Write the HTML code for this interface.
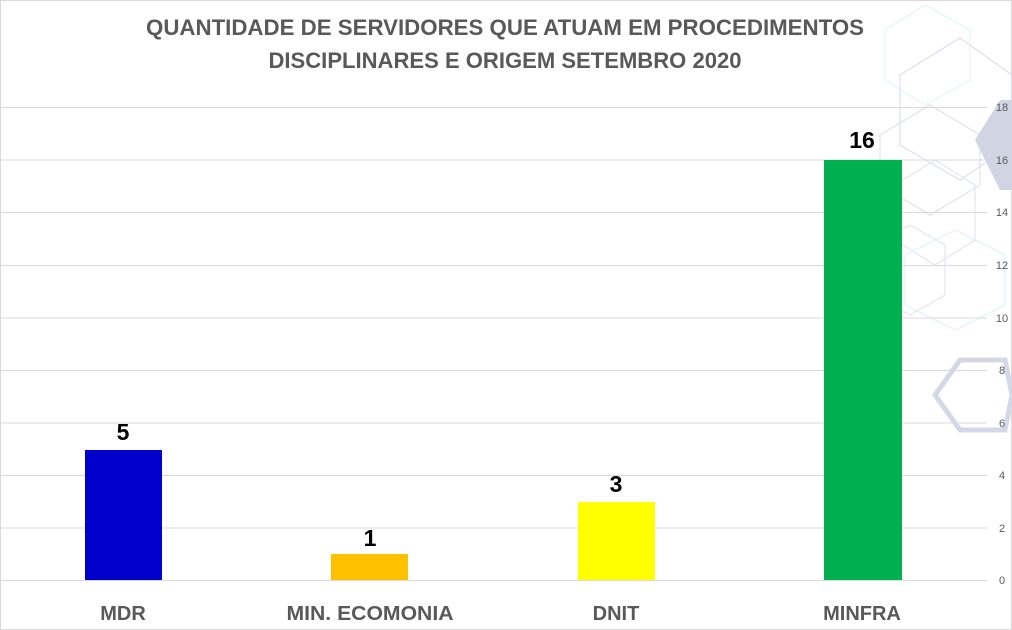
<!DOCTYPE html>
<html><head><meta charset="utf-8"><style>
html,body{margin:0;padding:0;background:#fff;}
svg{display:block;font-family:"Liberation Sans",sans-serif;}
</style></head><body>
<svg width="1012" height="630" viewBox="0 0 1012 630">
<rect x="0.5" y="0.5" width="1011" height="629" fill="#fff" stroke="#d9d9d9"/>
<g fill="none" stroke-width="1.2">
<polygon points="885,30 925,5 970,30 970,80 925,105 885,80" stroke="#e4f4f8"/>
<polygon points="900,75 960,38 1012,75 1012,145 960,180 900,145" stroke="#dde0ec"/>
<polygon points="880,135 930,105 980,135 980,185 930,215 880,185" stroke="#e0e3ee"/>
<polygon points="895,185 935,160 975,185 975,240 935,265 895,240" stroke="#e4e7f0"/>
<polygon points="905,255 955,230 1005,255 1005,305 955,330 905,305" stroke="#e0f4f8"/>
<polygon points="880,240 910,225 945,245 945,295 910,315 880,300" stroke="#e4e7f0"/>
<polygon points="935,395 960,360 1005,360 1012,395 1005,430 960,430" stroke="#d4d8e6" stroke-width="5"/>
</g>
<polygon points="975,140 1000,100 1012,100 1012,190 1000,190" fill="#d0d4e3"/>
<g stroke="#d9d9d9" stroke-width="1">
<line x1="0" y1="580.5" x2="987" y2="580.5"/>
<line x1="0" y1="528" x2="987" y2="528"/>
<line x1="0" y1="475.5" x2="987" y2="475.5"/>
<line x1="0" y1="423" x2="987" y2="423"/>
<line x1="0" y1="370.5" x2="987" y2="370.5"/>
<line x1="0" y1="318" x2="987" y2="318"/>
<line x1="0" y1="265.5" x2="987" y2="265.5"/>
<line x1="0" y1="212.5" x2="987" y2="212.5"/>
<line x1="0" y1="160" x2="987" y2="160"/>
<line x1="0" y1="107.5" x2="987" y2="107.5"/>
</g>
<g font-size="11" fill="#595959" text-anchor="middle">
<text x="1002" y="584">0</text><text x="1002" y="532">2</text><text x="1002" y="479">4</text>
<text x="1002" y="427">6</text><text x="1002" y="374">8</text><text x="1002" y="322">10</text>
<text x="1002" y="269">12</text><text x="1002" y="216">14</text><text x="1002" y="164">16</text>
<text x="1002" y="111">18</text>
</g>
<rect x="85" y="450" width="77" height="130" fill="#0000cc"/>
<rect x="331" y="554" width="77" height="26" fill="#ffc000"/>
<rect x="578" y="502" width="77" height="78" fill="#ffff00"/>
<rect x="824" y="160" width="78" height="420" fill="#00b050"/>
<g font-size="23" font-weight="bold" fill="#000" text-anchor="middle">
<text x="123" y="440">5</text><text x="370" y="546">1</text>
<text x="616" y="492">3</text><text x="862" y="148">16</text>
</g>
<g font-size="20" font-weight="bold" fill="#595959" text-anchor="middle">
<text x="123" y="620">MDR</text>
<text x="370" y="620" textLength="167" lengthAdjust="spacingAndGlyphs">MIN. ECOMONIA</text>
<text x="616" y="620">DNIT</text>
<text x="862" y="620">MINFRA</text>
</g>
<g font-size="22" font-weight="bold" fill="#595959" text-anchor="middle">
<text x="505" y="35" textLength="718" lengthAdjust="spacingAndGlyphs">QUANTIDADE DE SERVIDORES QUE ATUAM EM PROCEDIMENTOS</text>
<text x="505" y="68" textLength="473" lengthAdjust="spacingAndGlyphs">DISCIPLINARES E ORIGEM SETEMBRO 2020</text>
</g>
</svg>
</body></html>
